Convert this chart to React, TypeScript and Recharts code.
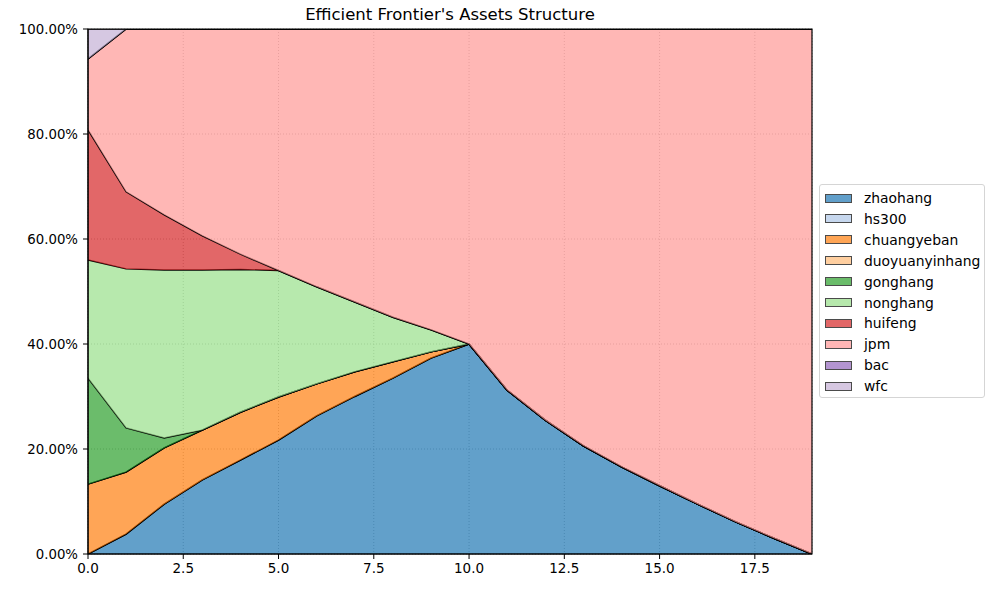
import { AreaChart, Area, XAxis, YAxis, CartesianGrid, ReferenceArea } from "recharts";

const steps = [0, 1, 2, 3, 4, 5, 6, 7, 8, 9, 10, 11, 12, 13, 14, 15, 16, 17, 18, 19];

// weights in percent
const zhaohang = [0, 3.8, 9.5, 14.1, 17.9, 21.7, 26.3, 30.0, 33.5, 37.3, 40.0, 31.2, 25.5, 20.6, 16.6, 13.0, 9.5, 6.1, 3.0, 0];
const hs300 = [0, 0, 0, 0, 0, 0, 0, 0, 0, 0, 0, 0, 0, 0, 0, 0, 0, 0, 0, 0];
const chuangyeban = [13.3, 11.8, 10.7, 9.5, 9.1, 8.2, 6.1, 4.7, 3.1, 1.2, 0, 0, 0, 0, 0, 0, 0, 0, 0, 0];
const duoyuanyinhang = [0, 0, 0, 0, 0, 0, 0, 0, 0, 0, 0, 0, 0, 0, 0, 0, 0, 0, 0, 0];
const gonghang = [20.2, 8.4, 1.9, 0, 0, 0, 0, 0, 0, 0, 0, 0, 0, 0, 0, 0, 0, 0, 0, 0];
const nonghang = [22.5, 30.3, 32.0, 30.5, 27.2, 24.1, 18.5, 13.3, 8.5, 4.2, 0, 0, 0, 0, 0, 0, 0, 0, 0, 0];
const huifeng = [24.8, 14.7, 10.5, 6.5, 2.9, 0, 0, 0, 0, 0, 0, 0, 0, 0, 0, 0, 0, 0, 0, 0];
const jpm = [13.5, 31.0, 35.4, 39.4, 42.9, 46.0, 49.1, 52.0, 54.9, 57.3, 60.0, 68.8, 74.5, 79.4, 83.4, 87.0, 90.5, 93.9, 97.0, 100];
const bac = [0, 0, 0, 0, 0, 0, 0, 0, 0, 0, 0, 0, 0, 0, 0, 0, 0, 0, 0, 0];
const wfc = [5.7, 0, 0, 0, 0, 0, 0, 0, 0, 0, 0, 0, 0, 0, 0, 0, 0, 0, 0, 0];

const xTicks = [0, 2.5, 5, 7.5, 10, 12.5, 15, 17.5];
const yTicks = [0, 20, 40, 60, 80, 100];

const series = [
  { key: "zhaohang", values: zhaohang, color: "#1f77b4" },
  { key: "hs300", values: hs300, color: "#aec7e8" },
  { key: "chuangyeban", values: chuangyeban, color: "#ff7f0e" },
  { key: "duoyuanyinhang", values: duoyuanyinhang, color: "#ffbb78" },
  { key: "gonghang", values: gonghang, color: "#2ca02c" },
  { key: "nonghang", values: nonghang, color: "#98df8a" },
  { key: "huifeng", values: huifeng, color: "#d62728" },
  { key: "jpm", values: jpm, color: "#ff9896" },
  { key: "bac", values: bac, color: "#9467bd" },
  { key: "wfc", values: wfc, color: "#c5b0d5" },
];

const data = steps.map((s, i) => {
  const row: any = { x: s };
  series.forEach((sr) => (row[sr.key] = sr.values[i]));
  return row;
});

const font = "'DejaVu Sans', sans-serif";

export default function App() {
  return (
    <div style={{ position: "absolute", left: 0, top: 0, width: 998, height: 590, background: "#fff", fontFamily: font }}>
      <div style={{ position: "absolute", left: 88, width: 724, top: 5, textAlign: "center", fontSize: 16.5, color: "#000", lineHeight: "20px" }}>
        Efficient Frontier's Assets Structure
      </div>
      <AreaChart width={998} height={590} data={data} margin={{ top: 29, right: 186, bottom: 6, left: 8 }}>
        <CartesianGrid stroke="#b0b0b0" strokeDasharray="1 2" vertical horizontal />
        <XAxis
          dataKey="x"
          type="number"
          domain={[0, 19]}
          ticks={xTicks}
          allowDataOverflow
          tickFormatter={(v) => v.toFixed(1)}
          height={30}
          tickSize={5}
          tickMargin={4}
          stroke="#000"
          tick={{ fill: "#000", fontSize: 13.5, fontFamily: font }}
        />
        <YAxis
          type="number"
          domain={[0, 100]}
          ticks={yTicks}
          allowDataOverflow
          tickFormatter={(v) => v.toFixed(2) + "%"}
          width={80}
          tickSize={5}
          tickMargin={5}
          stroke="#000"
          tick={{ fill: "#000", fontSize: 13.3, fontFamily: font }}
        />
        {series.map((sr) => (
          <Area
            key={sr.key}
            dataKey={sr.key}
            stackId="w"
            type="linear"
            fill={sr.color}
            fillOpacity={0.7}
            stroke="#000"
            strokeWidth={1.4}
            isAnimationActive={false}
            dot={false}
            activeDot={false}
          />
        ))}
        <ReferenceArea x1={0} x2={19} y1={0} y2={100} fill="none" stroke="#000" strokeWidth={1.2} />
      </AreaChart>
      <div
        style={{
          position: "absolute",
          left: 819,
          top: 184,
          width: 164,
          height: 212,
          border: "1px solid #d5d5d5",
          borderRadius: 3,
          boxSizing: "content-box",
        }}
      >
        {series.map((sr, i) => (
          <div key={sr.key} style={{ position: "absolute", left: 5, top: 7 + i * 20.9, height: 12, display: "flex", alignItems: "center" }}>
            <div
              style={{
                width: 27,
                height: 9,
                background: sr.color,
                opacity: 0.7,
                border: "1px solid #000",
                boxSizing: "border-box",
              }}
            />
            <span style={{ marginLeft: 12, fontSize: 13.9, color: "#000", lineHeight: "12px" }}>{sr.key}</span>
          </div>
        ))}
      </div>
    </div>
  );
}
